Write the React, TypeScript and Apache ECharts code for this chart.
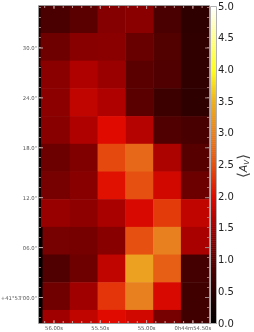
import React, { useEffect, useRef } from "react";
import * as echarts from "echarts";

// rows listed from top to bottom, columns from left to right
const avRow0 = [0.83, 1.01, 1.31, 1.34, 0.83, 0.55];
const avRow1 = [1.14, 1.33, 1.34, 1.11, 0.92, 0.56];
const avRow2 = [1.34, 1.62, 1.46, 1.0, 0.9, 0.56];
const avRow3 = [1.36, 1.75, 1.62, 1.0, 0.69, 0.54];
const avRow4 = [1.33, 1.62, 2.0, 1.66, 0.9, 0.81];
const avRow5 = [1.13, 1.27, 2.45, 2.75, 1.59, 0.96];
const avRow6 = [1.21, 1.33, 2.05, 2.5, 1.88, 1.13];
const avRow7 = [1.44, 1.37, 1.56, 1.94, 2.35, 1.75];
const avRow8 = [1.21, 1.2, 1.33, 2.5, 3.0, 1.56];
const avRow9 = [0.9, 1.14, 1.75, 3.35, 2.65, 0.77];
const avRow10 = [1.16, 1.5, 2.3, 3.0, 1.94, 0.73];
const avRow11 = [1.5, 1.75, 2.0, 1.88, 1.21, 0.73];
const avRows = [avRow0, avRow1, avRow2, avRow3, avRow4, avRow5, avRow6, avRow7, avRow8, avRow9, avRow10, avRow11];

const yTickValues = [0, 6, 12, 18, 24, 30];
const yTickLabels = ["+41°53'00.0\"", "06.0\"", "12.0\"", "18.0\"", "24.0\"", "30.0\""];
const xTickValues = [56.0, 55.5, 55.0, 54.5];
const xTickLabels = ["56.00s", "55.50s", "55.00s", "0h44m54.50s"];
const cbarTicks = ["0.0", "0.5", "1.0", "1.5", "2.0", "2.5", "3.0", "3.5", "4.0", "4.5", "5.0"];
const cmapStops = [
  [0, "#000000"], [0.1, "#2a0000"], [0.2, "#5a0000"], [0.3, "#a00000"], [0.4, "#e00a00"], [0.5, "#e65010"],
  [0.6, "#e88020"], [0.7, "#eeb020"], [0.8, "#ffff20"], [0.9, "#ffff90"], [1, "#ffffff"],
];

const GRAY = "#9a9a9a";
const SEC_PER_COL = 0.3; // RA seconds per cell
const ARC_PER_ROW = 3.33; // arcsec per cell

function hex(c: string) { return [1, 3, 5].map((i) => parseInt(c.slice(i, i + 2), 16)); }
function colorOf(v: number) {
  const t = Math.min(1, Math.max(0, v / 5));
  for (let i = 1; i < cmapStops.length; i++) {
    const [a, ca] = cmapStops[i - 1] as [number, string];
    const [b, cb] = cmapStops[i] as [number, string];
    if (t <= b) {
      const f = (t - a) / (b - a);
      const A = hex(ca), B = hex(cb);
      return `rgb(${A.map((x, k) => Math.round(x + (B[k] - x) * f)).join(",")})`;
    }
  }
  return "#fff";
}

export default function App() {
  const ref = useRef<HTMLDivElement>(null);
  useEffect(() => {
    const chart = echarts.init(ref.current!, undefined, { renderer: "svg" });
    const L = 39, R = 209, T = 6, B = 323;
    const xPerPx = 0.5 / 46.3;
    const xLeft = 56.0 + (54 - L) * xPerPx;
    const xRight = 56.0 - (R - 54) * xPerPx;
    const yPerPx = 6 / 49.9;
    const yBottom = -(B - 297.5) * yPerPx;
    const yTop = (297.5 - T) * yPerPx;
    const x0 = xLeft - 3 * xPerPx; // left edge of first column
    const y0 = yTop + 0.7 * yPerPx; // top edge of first row
    const cellData: number[][] = [];
    avRows.forEach((row, r) => row.forEach((v, c) => cellData.push([c, r, v])));
    const cbarData = Array.from({ length: 160 }, (_, i) => [i]);
    const minorY: number[] = [];
    for (let y = 297.5 + 20; y > T; y -= 10) minorY.push(y);
    const minorX: number[] = [];
    for (let x = 44.7; x < R; x += 9.26) minorX.push(x);
    chart.setOption({
      animation: false,
      textStyle: { fontFamily: "DejaVu Sans" },
      grid: [
        { left: L, top: T, width: R - L, height: B - T, show: false },
        { left: 210.5, top: 6.5, width: 6, height: B - T, show: false },
      ],
      xAxis: [
        {
          type: "value", gridIndex: 0, inverse: true, min: xRight, max: xLeft, interval: 100,
          axisLabel: { show: false }, axisTick: { show: false }, splitLine: { show: false }, axisLine: { show: false },
        },
        { type: "value", gridIndex: 1, min: 0, max: 1, show: false },
      ],
      yAxis: [
        {
          type: "value", gridIndex: 0, min: yBottom, max: yTop, interval: 100,
          axisLabel: { show: false }, axisTick: { show: false }, splitLine: { show: false }, axisLine: { show: false },
        },
        { type: "value", gridIndex: 1, min: 0, max: 160, show: false },
      ],
      series: [
        {
          type: "custom", xAxisIndex: 0, yAxisIndex: 0, silent: true, clip: true, z: 1,
          data: cellData,
          renderItem(_p: any, api: any) {
            const c = api.value(0), r = api.value(1), v = api.value(2);
            const a = api.coord([x0 - c * SEC_PER_COL, y0 - r * ARC_PER_ROW]);
            const b = api.coord([x0 - (c + 1) * SEC_PER_COL, y0 - (r + 1) * ARC_PER_ROW]);
            const extra = c === 0 ? 3 : 0;
            return {
              type: "rect",
              shape: { x: a[0] - extra, y: Math.max(a[1], T), width: b[0] - a[0] + 0.5 + extra, height: Math.min(b[1], B) - Math.max(a[1], T) + 0.5 },
              style: { fill: colorOf(v) },
            };
          },
        },
        {
          type: "custom", xAxisIndex: 1, yAxisIndex: 1, silent: true, z: 1,
          data: cbarData,
          renderItem(_p: any, api: any) {
            const i = api.value(0);
            const a = api.coord([0, i + 1]);
            const b = api.coord([1, i]);
            return {
              type: "rect",
              shape: { x: a[0], y: a[1], width: b[0] - a[0], height: b[1] - a[1] + 0.5 },
              style: { fill: colorOf(((i + 0.5) / 160) * 5) },
            };
          },
        },
      ],
      graphic: [
        { type: "rect", z: 9, shape: { x: L, y: T, width: 1.5, height: 60 }, style: { fill: "#1a0000" } },
        { type: "rect", z: 9, shape: { x: L, y: 66, width: 2, height: 161 }, style: { fill: "#100000" } },
        { type: "rect", z: 9, shape: { x: L, y: 227, width: 3.5, height: 96 }, style: { fill: "#000000" } },
        { type: "rect", z: 10, shape: { x: L - 0.5, y: T - 0.5, width: R - L + 1, height: B - T + 1 }, style: { fill: "none", stroke: GRAY, lineWidth: 1 } },
        { type: "rect", z: 10, shape: { x: 210.5, y: 6.5, width: 6, height: B - T }, style: { fill: "none", stroke: "#b0b0b0", lineWidth: 1 } },
        ...minorY.flatMap((y) => [
          { type: "line", z: 11, shape: { x1: L, y1: y, x2: L + 2, y2: y }, style: { stroke: "#a87070", lineWidth: 1 } },
          { type: "line", z: 11, shape: { x1: R - 2, y1: y, x2: R, y2: y }, style: { stroke: "#a87070", lineWidth: 1 } },
        ]),
        ...minorX.flatMap((x) => [
          { type: "line", z: 11, shape: { x1: x, y1: B - 2, x2: x, y2: B }, style: { stroke: "#c8a0a0", lineWidth: 1 } },
          { type: "line", z: 11, shape: { x1: x, y1: T, x2: x, y2: T + 2 }, style: { stroke: "#c09090", lineWidth: 1 } },
        ]),
        ...yTickValues.flatMap((v, i) => {
          const y = 297.5 - v / yPerPx;
          return [
            { type: "line", z: 11, shape: { x1: L, y1: y, x2: L + 4, y2: y }, style: { stroke: "#c8a8a8", lineWidth: 1 } },
            { type: "line", z: 11, shape: { x1: R - 4, y1: y, x2: R, y2: y }, style: { stroke: "#a08080", lineWidth: 1 } },
            { type: "text", z: 11, style: { x: L - 2, y, text: yTickLabels[i], align: "right", verticalAlign: "middle", fontSize: 5.3, fontFamily: "DejaVu Sans", fill: "#555" } },
          ];
        }),
        ...xTickValues.flatMap((v, i) => {
          const x = 54 + ((56.0 - v) / 0.5) * 46.3;
          return [
            { type: "line", z: 11, shape: { x1: x, y1: B - 3, x2: x, y2: B }, style: { stroke: "#c8a0a0", lineWidth: 1 } },
            { type: "line", z: 11, shape: { x1: x, y1: T, x2: x, y2: T + 3 }, style: { stroke: "#c09090", lineWidth: 1 } },
            { type: "text", z: 11, style: { x, y: 327.5, text: xTickLabels[i], align: "center", verticalAlign: "middle", fontSize: 5.3, fontFamily: "DejaVu Sans", fill: "#555" } },
          ];
        }),
        ...cbarTicks.map((t, i) => ({
          type: "text", z: 11,
          style: { x: 218, y: 323 - (i * 317) / 10, text: t, align: "left", verticalAlign: "middle", fontSize: 10, fontFamily: "DejaVu Sans", fill: "#222" },
        })),
        {
          type: "text", z: 11, x: 243, y: 166, rotation: Math.PI / 2,
          style: {
            x: 0, y: 0, text: "{b|⟨}{a|A}{v|V}{b|⟩}", align: "center", verticalAlign: "middle", fontFamily: "DejaVu Sans", fill: "#333",
            rich: {
              b: { fontSize: 15, fontFamily: "DejaVu Sans", fill: "#444" },
              a: { fontSize: 11, fontStyle: "italic", fontFamily: "DejaVu Sans", fill: "#333" },
              v: { fontSize: 7, fontStyle: "italic", fontFamily: "DejaVu Sans", fill: "#333", verticalAlign: "bottom" },
            },
          },
        },
      ],
    });
    return () => chart.dispose();
  }, []);
  return <div ref={ref} style={{ position: "fixed", left: 0, top: 0, width: 254, height: 332 }} />;
}
